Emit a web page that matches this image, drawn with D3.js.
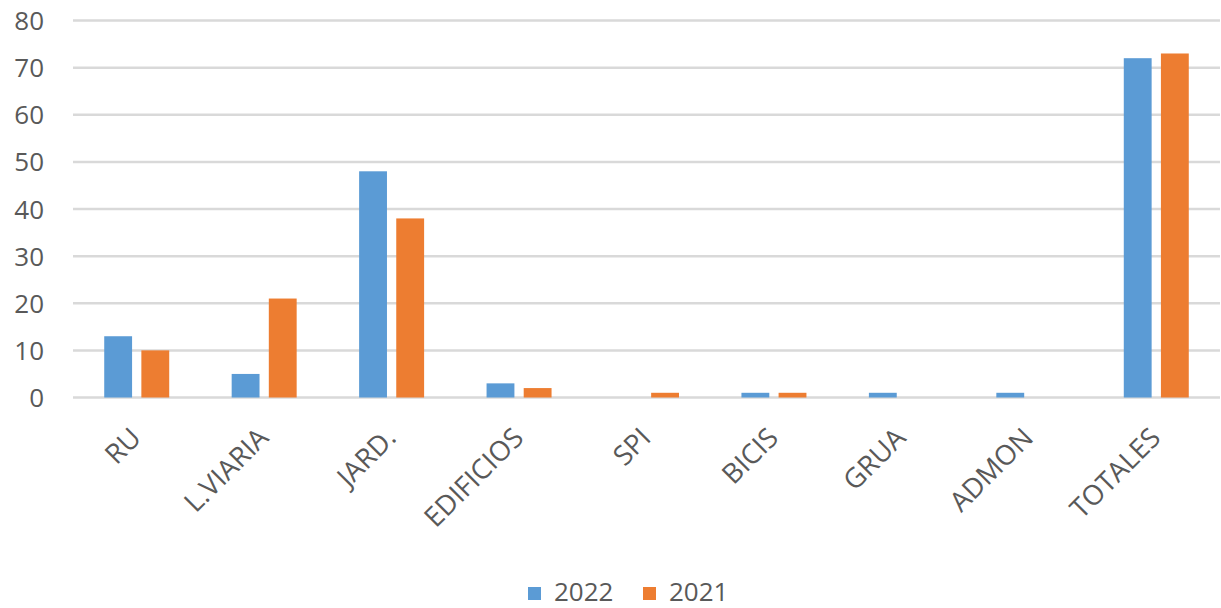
<!DOCTYPE html>
<html><head><meta charset="utf-8">
<script src="https://cdn.jsdelivr.net/npm/d3@7"></script>
<style>body{margin:0;background:#fff}svg{display:block}text{font-family:"Open Sans",sans-serif;fill:#595959}</style>
</head><body><svg id="c" width="1221" height="608"></svg>
<script>
const categories = ["RU","L.VIARIA","JARD.","EDIFICIOS","SPI","BICIS","GRUA","ADMON","TOTALES"];
const series = ["2022","2021"];
const values2022 = [13,5,48,3,0,1,1,1,72];
const values2021 = [10,21,38,2,1,1,0,0,73];
const yTicks = [0,10,20,30,40,50,60,70,80];
const colors = ["#5B9BD5","#ED7D31"];

const svg = d3.select("#c");
const L = 73, R = 1220, T = 20.5, B = 397.5;
const y = d3.scaleLinear().domain([0,80]).range([B,T]);
const x0 = d3.scaleBand().domain(categories).range([L,R]).paddingInner(0.49).paddingOuter(0.245);
const x1 = d3.scaleBand().domain(series).range([0,x0.bandwidth()]).paddingInner(0.25);
const color = d3.scaleOrdinal().domain(series).range(colors);

// grid
svg.append("g").selectAll("line").data(yTicks).join("line")
  .attr("x1",L).attr("x2",R).attr("y1",d=>y(d)).attr("y2",d=>y(d))
  .attr("stroke","#d9d9d9").attr("stroke-width",2.5);

// y axis labels
const yAxis = d3.axisLeft(y).tickValues(yTicks).tickSize(0).tickPadding(0);
const gy = svg.append("g").attr("transform","translate(44,0)").call(yAxis);
gy.select(".domain").remove();
gy.selectAll("text").style("font-size","26px").attr("fill","#595959").attr("dy","0.35em").style("font-family","'Open Sans',sans-serif");

const data = categories.map((c,i)=>({cat:c, vals:[{s:"2022",v:values2022[i]},{s:"2021",v:values2021[i]}]}));
const g = svg.append("g").selectAll("g").data(data).join("g")
  .attr("transform",d=>`translate(${x0(d.cat)},0)`);
g.selectAll("rect").data(d=>d.vals).join("rect")
  .attr("x",d=>x1(d.s)).attr("width",x1.bandwidth())
  .attr("y",d=>y(d.v)).attr("height",d=>B-y(d.v))
  .attr("fill",d=>color(d.s));

// x labels
const xAxis = d3.axisBottom(x0).tickSize(0).tickPadding(0);
const gx = svg.append("g").attr("transform",`translate(0,${B})`).call(xAxis);
gx.select(".domain").remove();
gx.selectAll("text").attr("y",0).attr("x",0).attr("dy",0)
  .attr("transform","translate(6,42) rotate(-45)")
  .attr("text-anchor","end")
  .style("font-size","27.5px").attr("fill","#595959").style("font-family","'Open Sans',sans-serif");

// legend
const legendX = [528,643];
const lg = svg.append("g").selectAll("g").data(series).join("g")
  .attr("transform",(d,i)=>`translate(${legendX[i]},587)`);
lg.append("rect").attr("width",13).attr("height",13).attr("fill",d=>color(d));
lg.append("text").attr("x",26).attr("y",13.5).text(d=>d).style("font-size","26px");
</script></body></html>
